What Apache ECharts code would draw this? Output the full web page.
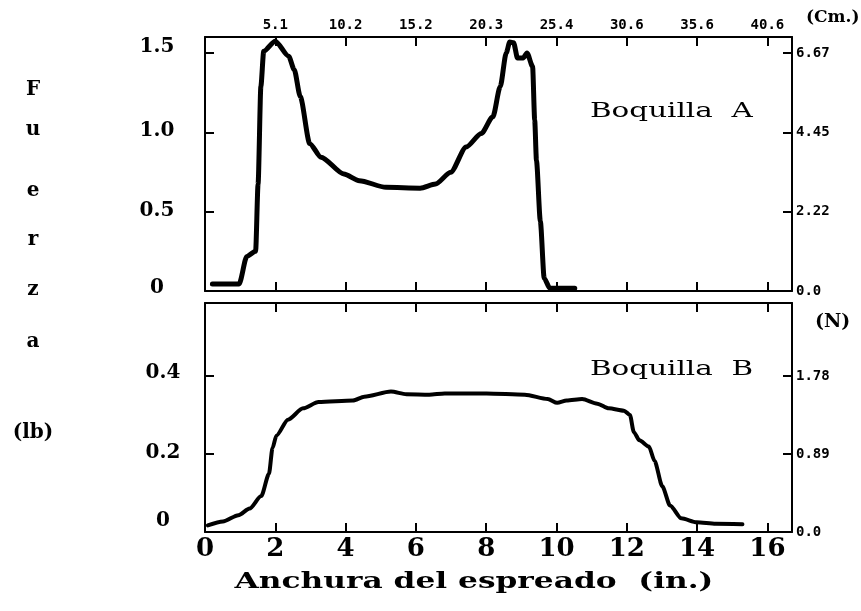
<!DOCTYPE html>
<html>
<head>
<meta charset="utf-8">
<script src="https://cdn.jsdelivr.net/npm/echarts@6/dist/echarts.min.js"></script>
<style>
  html, body { margin: 0; background: #fff; }
  #chart { width: 861px; height: 611px; }
</style>
</head>
<body>
<div id="chart"></div>
<script>
// Boquilla A: anchura (in.) / fuerza (lb)
const xA = [0.21, 0.97, 1.19, 1.44, 1.51, 1.59, 1.67, 2.0, 2.38, 2.54, 2.71, 2.98, 3.30, 3.95, 4.39, 5.15, 6.12, 6.56, 6.99, 7.43, 7.86, 8.19, 8.40, 8.57, 8.67, 8.78, 8.89, 9.05, 9.16, 9.32, 9.38, 9.43, 9.54, 9.65, 9.81, 10.52];
const yA = [0.044, 0.044, 0.218, 0.25, 0.674, 1.29, 1.51, 1.574, 1.479, 1.394, 1.225, 0.928, 0.843, 0.737, 0.695, 0.653, 0.648, 0.674, 0.748, 0.907, 0.992, 1.097, 1.288, 1.50, 1.568, 1.564, 1.468, 1.468, 1.50, 1.415, 1.076, 0.822, 0.441, 0.08, 0.017, 0.017];

// Boquilla B
const xB = [0.08, 0.51, 0.95, 1.27, 1.60, 1.82, 1.92, 2.03, 2.36, 2.79, 3.23, 4.21, 4.53, 5.29, 5.73, 6.38, 6.82, 8.01, 9.10, 9.75, 10.02, 10.29, 10.73, 11.16, 11.49, 11.92, 12.09, 12.20, 12.36, 12.63, 12.79, 13.01, 13.23, 13.55, 13.99, 14.53, 15.29];
const yB = [0.017, 0.027, 0.043, 0.060, 0.092, 0.149, 0.215, 0.247, 0.288, 0.317, 0.333, 0.337, 0.347, 0.360, 0.353, 0.352, 0.355, 0.355, 0.352, 0.341, 0.331, 0.337, 0.341, 0.329, 0.317, 0.311, 0.300, 0.256, 0.235, 0.219, 0.182, 0.117, 0.068, 0.035, 0.025, 0.021, 0.020];

// etiquetas de ejes
const inTicks = [0, 2, 4, 6, 8, 10, 12, 14, 16];
const cmLabels = ['5.1', '10.2', '15.2', '20.3', '25.4', '30.6', '35.6', '40.6']; // 2..16 in.
const lbTicksA = [0, 0.5, 1.0, 1.5];
const lbLabelsA = ['{m|0}', '{s|0.5}', '{s|1.0}', '{l|1.5}'];
const nLabelsA = ['0.0', '2.22', '4.45', '6.67'];
const lbTicksB = [0, 0.2, 0.4];
const lbLabelsB = ['{x|0}', '{s|0.2}', '{m|0.4}'];
const nLabelsB = ['0.0', '0.89', '1.78'];
const fuerzaLetters = ['F', 'u', 'e', 'r', 'z', 'a'];
const fuerzaY = [90, 130, 191, 240, 290, 342];

const SERIF = '"DejaVu Serif", serif';
const MONO = '"DejaVu Sans Mono", monospace';

const pick = (ticks, labels) => (v) => {
  const i = ticks.findIndex(t => Math.abs(t - v) < 1e-6);
  return i >= 0 ? labels[i] : '';
};

const lineAxis = { show: true, onZero: false, lineStyle: { color: '#000', width: 2 } };
const tickIn = { show: true, inside: true, length: 9, lineStyle: { color: '#000', width: 2 } };
// desplazamiento vertical de las etiquetas izquierdas
const leftRich = {
  s: { padding: [0, 0, 2, 0] },
  m: { padding: [0, 0, 6, 0] },
  l: { padding: [0, 0, 13, 0] },
  x: { padding: [0, 0, 22, 0] }
};

const chart = echarts.init(document.getElementById('chart'));

const xBase = {
  type: 'value', min: 0, max: 16.7, interval: 2,
  axisLine: lineAxis, axisTick: tickIn, splitLine: { show: false }
};

const leftLabel = (margin, fmt) => ({
  margin, align: 'center', color: '#000', fontFamily: SERIF, fontWeight: 'bold', fontSize: 20,
  rich: leftRich, formatter: fmt
});
const rightLabel = fmt => ({
  margin: 4, color: '#000', fontFamily: MONO, fontWeight: 'bold', fontSize: 14, formatter: fmt
});

const option = {
  animation: false,
  backgroundColor: '#fff',
  grid: [
    { left: 205, right: 69, top: 37, height: 254 },
    { left: 205, right: 69, top: 303, height: 229 }
  ],
  xAxis: [
    { ...xBase, gridIndex: 0, position: 'bottom', axisLabel: { show: false } },
    {
      ...xBase, gridIndex: 0, position: 'top',
      axisLabel: {
        margin: 5, color: '#000', fontFamily: MONO, fontWeight: 'bold', fontSize: 14,
        formatter: v => pick(inTicks.slice(1), cmLabels)(v)
      }
    },
    { ...xBase, gridIndex: 1, position: 'top', axisLabel: { show: false } },
    {
      ...xBase, gridIndex: 1, position: 'bottom',
      axisLabel: {
        margin: 4, color: '#000', fontFamily: SERIF, fontWeight: 'bold', fontSize: 26,
        formatter: v => pick(inTicks, inTicks.map(String))(v)
      }
    }
  ],
  yAxis: [
    {
      type: 'value', gridIndex: 0, position: 'left', min: 0, max: 1.6, interval: 0.5,
      axisLine: lineAxis, axisTick: tickIn, splitLine: { show: false },
      axisLabel: leftLabel(48, pick(lbTicksA, lbLabelsA))
    },
    {
      type: 'value', gridIndex: 0, position: 'right', min: 0, max: 1.6, interval: 0.5,
      axisLine: lineAxis, axisTick: tickIn, splitLine: { show: false },
      axisLabel: rightLabel(pick(lbTicksA, nLabelsA))
    },
    {
      type: 'value', gridIndex: 1, position: 'left', min: 0, max: 0.587, interval: 0.2,
      axisLine: lineAxis, axisTick: tickIn, splitLine: { show: false },
      axisLabel: leftLabel(42, pick(lbTicksB, lbLabelsB))
    },
    {
      type: 'value', gridIndex: 1, position: 'right', min: 0, max: 0.587, interval: 0.2,
      axisLine: lineAxis, axisTick: tickIn, splitLine: { show: false },
      axisLabel: rightLabel(pick(lbTicksB, nLabelsB))
    }
  ],
  series: [
    {
      name: 'Boquilla A', type: 'line', xAxisIndex: 0, yAxisIndex: 0,
      data: xA.map((x, i) => [x, yA[i]]),
      showSymbol: false, smooth: 0.25, smoothMonotone: 'x',
      lineStyle: { color: '#000', width: 5, cap: 'round', join: 'round' }
    },
    {
      name: 'Boquilla B', type: 'line', xAxisIndex: 3, yAxisIndex: 2,
      data: xB.map((x, i) => [x, yB[i]]),
      showSymbol: false, smooth: 0.25, smoothMonotone: 'x',
      lineStyle: { color: '#000', width: 4, cap: 'round', join: 'round' }
    }
  ],
  graphic: [
    { type: 'text', x: 590, y: 112, scaleX: 1.4, style: { text: 'Boquilla  A', font: 'normal 21px ' + SERIF, fill: '#000', textVerticalAlign: 'middle' } },
    { type: 'text', x: 590, y: 370, scaleX: 1.4, style: { text: 'Boquilla  B', font: 'normal 21px ' + SERIF, fill: '#000', textVerticalAlign: 'middle' } },
    { type: 'text', x: 806, y: 18, style: { text: '(Cm.)', font: 'bold 17px ' + SERIF, fill: '#000', textVerticalAlign: 'middle' } },
    { type: 'text', x: 815, y: 322, style: { text: '(N)', font: 'bold 19px ' + SERIF, fill: '#000', textVerticalAlign: 'middle' } },
    ...fuerzaLetters.map((ch, i) => ({
      type: 'text', x: 33, y: fuerzaY[i],
      style: { text: ch, font: 'bold 20px ' + SERIF, fill: '#000', textAlign: 'center', textVerticalAlign: 'middle' }
    })),
    { type: 'text', x: 33, y: 433, style: { text: '(lb)', font: 'bold 20px ' + SERIF, fill: '#000', textAlign: 'center', textVerticalAlign: 'middle' } },
    { type: 'text', x: 474, y: 582, scaleX: 1.42, style: { text: 'Anchura del espreado  (in.)', font: 'bold 22px ' + SERIF, fill: '#000', textAlign: 'center', textVerticalAlign: 'middle' } }
  ]
};

chart.setOption(option);
</script>
</body>
</html>
